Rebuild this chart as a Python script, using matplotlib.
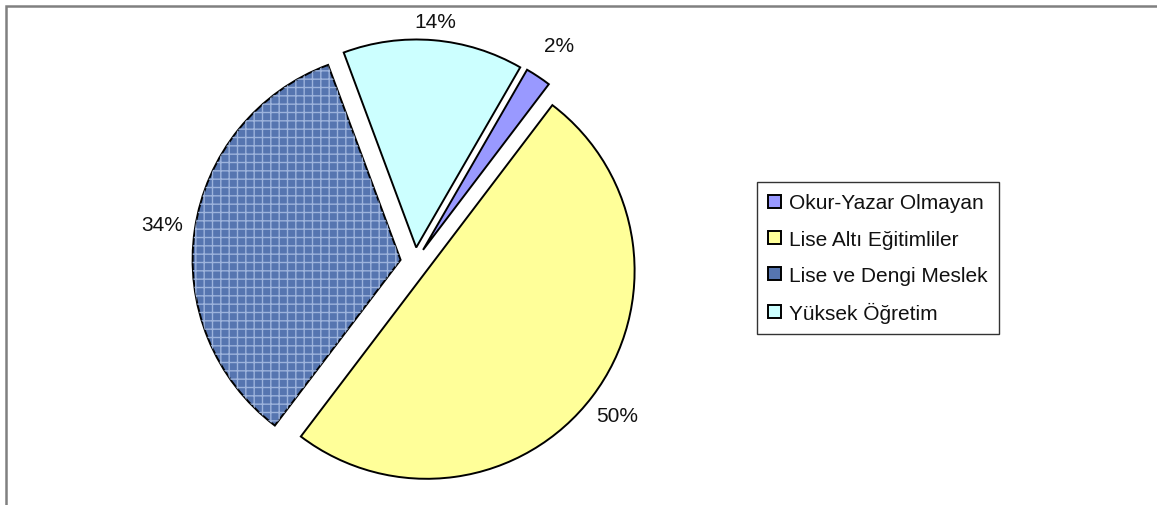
import matplotlib
matplotlib.use("Agg")
from matplotlib import pyplot as plt
from matplotlib.patches import Rectangle

plt.rcParams['font.family'] = ['Liberation Sans', 'DejaVu Sans']

# data (clockwise from the top slice)
labels = ["Okur-Yazar Olmayan", "Lise Altı Eğitimliler", "Lise ve Dengi Meslek", "Yüksek Öğretim"]
values = [2, 50, 34, 14]
colors = ["#9999FF", "#FFFF99", "#5675B0", "#CCFFFF"]
label_dist = [1.25, 1.22, 1.23, 1.16]   # where the % labels sit, in radii

W, H = 1157, 506
fig = plt.figure(figsize=(W / 100, H / 100), dpi=100)

# pie axes: center ~ (415, 263) px, radius ~ 208 px
cx, cy, r = 415, 263, 208
half = 1.12 * r
ax = fig.add_axes([(cx - half) / W, (H - cy - half) / H, 2 * half / W, 2 * half / H])

explode = [0.07] * len(values)
wedges, texts, autotexts = ax.pie(
    values, colors=colors, explode=explode, startangle=60, counterclock=False,
    autopct='%1.0f%%', pctdistance=1.0,
    wedgeprops=dict(edgecolor='black', linewidth=1.4),
    textprops=dict(fontsize=15, color='#111111'))

# move % labels out along their wedge direction
for t, d in zip(autotexts, label_dist):
    x, y = t.get_position()
    n = (x ** 2 + y ** 2) ** 0.5
    t.set_position((x / n * d, y / n * d))

# texture on the blue slice
hatch_w, _ = ax.pie(
    values, explode=explode, startangle=60, counterclock=False,
    wedgeprops=dict(facecolor='none', linewidth=0))
for i, w in enumerate(hatch_w):
    if i == 2:
        w.set_hatch('++')
        w.set_edgecolor('#9db3dc')
    else:
        w.set_visible(False)

ax.set_xlim(-1.12, 1.12)
ax.set_ylim(-1.12, 1.12)
ax.set_aspect('equal')
ax.axis('off')

leg = fig.legend(wedges, labels, loc='upper left',
                 bbox_to_anchor=(757 / W, 1 - 183 / H),
                 fontsize=15, frameon=True, fancybox=False, shadow=False,
                 handlelength=0.6, handleheight=0.6, handletextpad=0.4,
                 labelspacing=0.82, borderpad=0.55, borderaxespad=0)
leg.get_frame().set_edgecolor('black')
leg.get_frame().set_linewidth(1.0)
for t in leg.get_texts():
    t.set_color('#111111')

# outer frame (top and left visible)
fig.add_artist(Rectangle((6 / W, -0.5), 2, (H - 7) / H + 0.5,
                         transform=fig.transFigure, fill=False,
                         edgecolor='#808080', linewidth=1.8))

fig.savefig("out.png", dpi=100)
